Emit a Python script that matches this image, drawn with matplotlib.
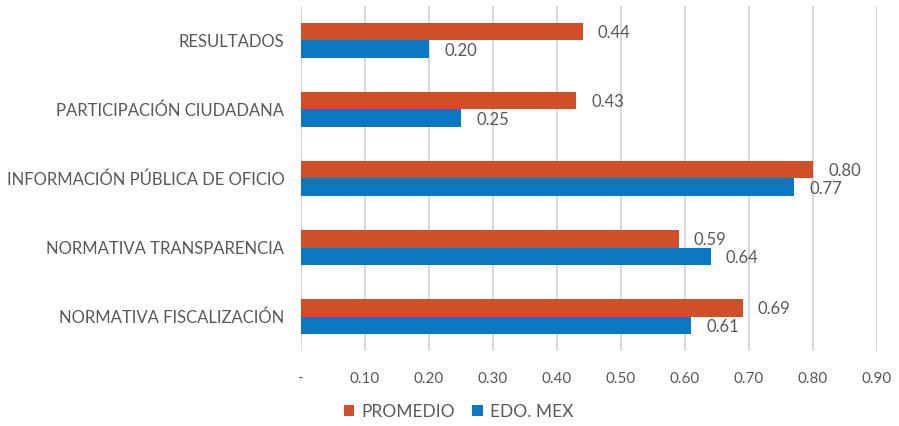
import matplotlib.pyplot as plt
import numpy as np

plt.rcParams["font.family"] = ["Lato", "DejaVu Sans"]

categories = [
    "RESULTADOS",
    "PARTICIPACIÓN CIUDADANA",
    "INFORMACIÓN PÚBLICA DE OFICIO",
    "NORMATIVA TRANSPARENCIA",
    "NORMATIVA FISCALIZACIÓN",
]
promedio = [0.44, 0.43, 0.80, 0.59, 0.69]
edo_mex = [0.20, 0.25, 0.77, 0.64, 0.61]
xticks = [0, 0.1, 0.2, 0.3, 0.4, 0.5, 0.6, 0.7, 0.8, 0.9]
xticklabels = ["-", "0.10", "0.20", "0.30", "0.40", "0.50", "0.60", "0.70", "0.80", "0.90"]

ORANGE = "#D04F27"
BLUE = "#0A77C2"
GRAY = "#595959"

fig = plt.figure(figsize=(8.99, 4.26), dpi=100)
ax = fig.add_axes([0.3348, 0.176, 0.6407, 0.810])

y = np.arange(len(categories))
h = 0.26
bars_p = ax.barh(y - h / 2, promedio, height=h, color=ORANGE, label="PROMEDIO", zorder=3)
bars_e = ax.barh(y + h / 2, edo_mex, height=h, color=BLUE, label="EDO. MEX", zorder=3)

for bars, vals in ((bars_p, promedio), (bars_e, edo_mex)):
    for b, v in zip(bars, vals):
        ax.annotate(f"{v:.2f}", (v, b.get_y() + b.get_height() / 2),
                    xytext=(11, -1), textcoords="offset points",
                    ha="left", va="center", fontsize=12, color=GRAY)

ax.set_ylim(len(categories) - 0.5, -0.5)
ax.set_xlim(0, 0.9)
ax.set_yticks(y)
ax.set_yticklabels(categories, fontsize=12, color=GRAY)
ax.set_xticks(xticks)
ax.set_xticklabels(xticklabels, fontsize=11, color=GRAY)
ax.tick_params(axis="both", length=0)
ax.tick_params(axis="x", pad=15)
ax.tick_params(axis="y", pad=12)
ax.grid(axis="x", color="#D9D9D9", linewidth=1.5, zorder=0)
for s in ax.spines.values():
    s.set_visible(False)

fig.legend(loc="center", bbox_to_anchor=(0.51, 0.033), ncol=2, frameon=False,
           fontsize=12.5, labelcolor=GRAY, handlelength=0.6, handleheight=0.6,
           handletextpad=0.4, columnspacing=1.0)

fig.savefig("out.png", dpi=100)
